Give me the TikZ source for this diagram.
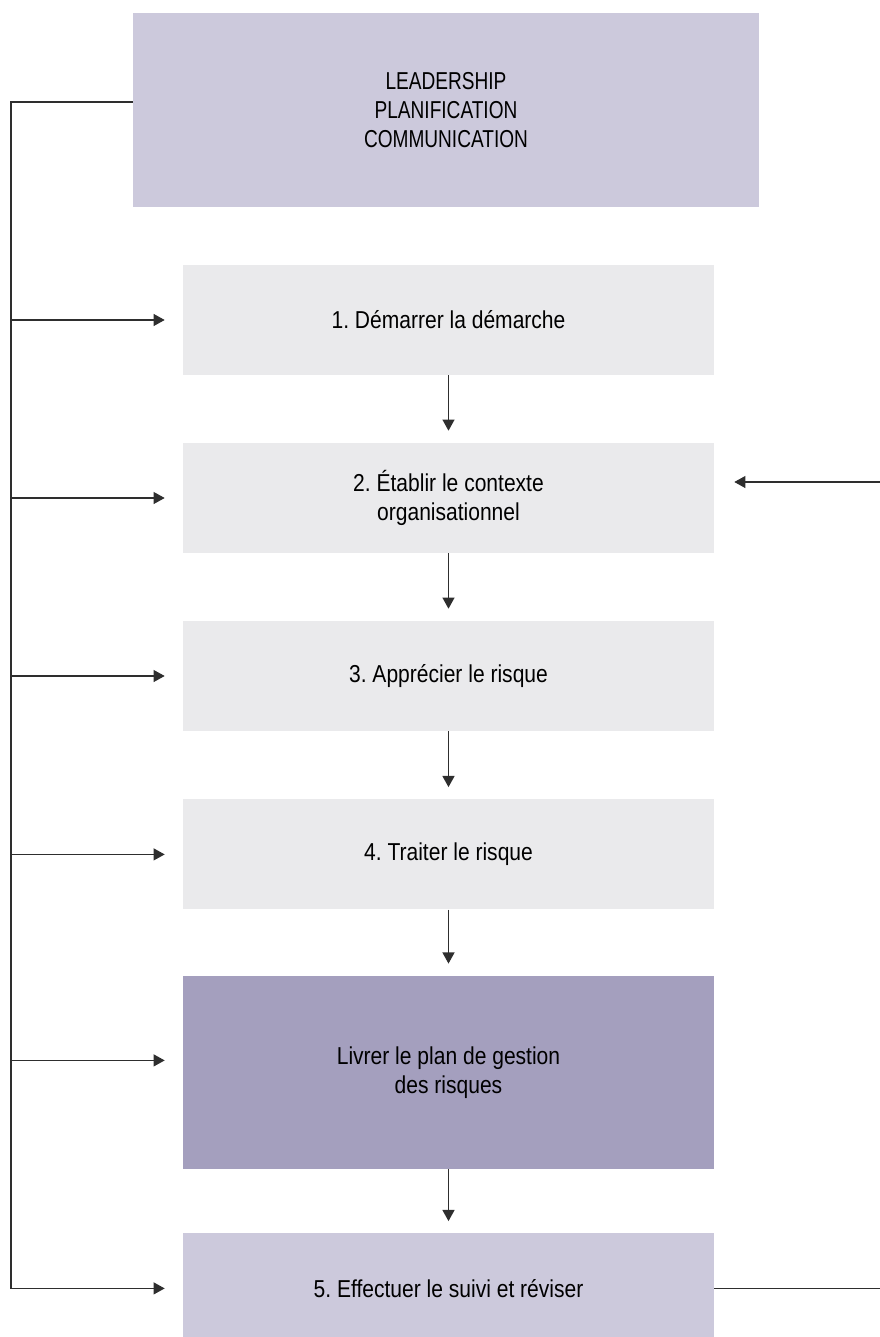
\documentclass[tikz,border=0pt]{standalone}
\usepackage{fontspec}
\setmainfont[FakeStretch=0.86]{Liberation Sans}
\newfontfamily\capsfont[FakeStretch=0.78]{Liberation Sans}
\usetikzlibrary{arrows.meta}
\definecolor{lilas}{HTML}{CCC9DC}
\definecolor{gris}{HTML}{EAEAEC}
\definecolor{mauve}{HTML}{A49FBE}
\definecolor{trait}{HTML}{2E2E2E}
\frenchspacing
\begin{document}
\begin{tikzpicture}[box/.style ={rectangle,fill=gris,minimum width=13.275cm,minimum height=2.75cm,inner sep=0pt,align=center,font=\fontsize{17.4}{20.6}\selectfont},
ligne/.style={draw=trait,line width=1pt},
fleche/.style={ligne,-{Triangle[length=0.28cm,width=0.3cm]}}]
\useasboundingbox (0,0) rectangle (22,-33.425);

\node[box,fill=lilas,minimum width=15.65cm,minimum height=4.85cm,font=\capsfont\fontsize{17.4}{20.6}\selectfont] (L) at (11.15,-2.75) {LEADERSHIP\\PLANIFICATION\\COMMUNICATION};
\node[box] (A) at (11.2125,-8.0) {1. Démarrer la démarche};
\node[box] (B) at (11.2125,-12.45) {2. Établir le contexte\\organisationnel};
\node[box] (C) at (11.2125,-16.9) {3. Apprécier le risque};
\node[box] (D) at (11.2125,-21.36) {4. Traiter le risque};
\node[box,fill=mauve,minimum height=4.825cm] (P) at (11.2125,-26.81) {Livrer le plan de gestion\\des risques};
\node[box,fill=lilas] (E) at (11.2125,-32.21) {5. Effectuer le suivi et réviser};

\draw [fleche,shorten >=0.3cm] (A) -- (B);
\draw [fleche,shorten >=0.3cm] (B) -- (C);
\draw [fleche,shorten >=0.3cm] (C) -- (D);
\draw [fleche,shorten >=0.3cm] (D) -- (P);
\draw [fleche,shorten >=0.3cm] (P) -- (E);

%bus
\coordinate (bus) at (0.275,-2.55);
\coordinate (p5) at ([yshift=0.3cm]P.west);
\draw [fleche,shorten >=0.45cm] ([yshift=0.2cm]L.west) -- (bus) |- (E.west);
\foreach \n in {A,B,C,D}
  \draw [fleche,shorten >=0.45cm] (bus |- \n.west) -- (\n.west);
\draw [fleche,shorten >=0.45cm] (bus |- p5) -- (p5);

%retour
\coordinate (R1) at (22,-12.05);
\coordinate (R2) at (22,-32.21);
\draw [fleche,shorten >=0.5cm] (R1) -- (R1 -| B.east);
\draw [ligne] (E.east) -- (R2);
\end{tikzpicture}
\end{document}
